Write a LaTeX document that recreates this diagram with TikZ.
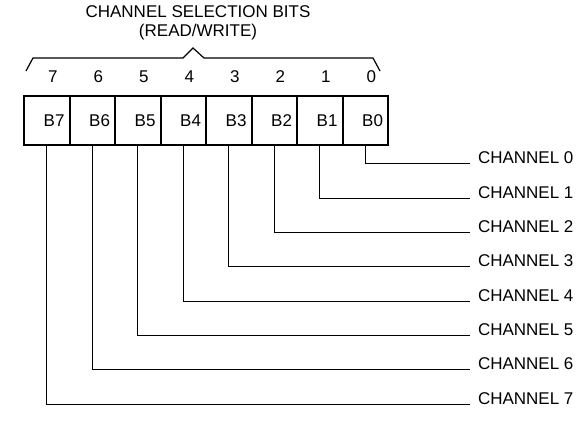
\documentclass[tikz,border=0pt]{standalone}
\usepackage{fontspec}
\setmainfont{Liberation Sans}
\usetikzlibrary{calc,positioning}

\begin{document}
\begin{tikzpicture}[x=0.5pt,y=-0.5pt,font=\fontsize{8.5}{9.5}\selectfont,
  cell/.style={draw,line width=1pt,minimum width=22.75pt,minimum height=24.5pt,text width=17.75pt,align=right,inner xsep=2.5pt,inner ysep=0pt,outer sep=0pt},
  digit/.style={inner sep=0pt},
  chan/.style={anchor=base west,inner xsep=4pt,inner ysep=0pt,outer sep=0pt},
  wire/.style={line width=0.5pt}]

  \useasboundingbox (0,0) rectangle (579,421);

  \node[align=center] (title) at (198,22.5) {CHANNEL SELECTION BITS\\(READ/WRITE)};

  \node[cell] (b7) at (46.75,120.5) {B7};
  \node[cell,right=0pt of b7] (b6) {B6};
  \node[cell,right=0pt of b6] (b5) {B5};
  \node[cell,right=0pt of b5] (b4) {B4};
  \node[cell,right=0pt of b4] (b3) {B3};
  \node[cell,right=0pt of b3] (b2) {B2};
  \node[cell,right=0pt of b2] (b1) {B1};
  \node[cell,right=0pt of b1] (b0) {B0};

  \node[digit,above=6.5pt of b7,xshift=3pt] (d7) {7};
  \node[digit,above=6.5pt of b6,xshift=3pt] (d6) {6};
  \node[digit,above=6.5pt of b5,xshift=3pt] (d5) {5};
  \node[digit,above=6.5pt of b4,xshift=3pt] (d4) {4};
  \node[digit,above=6.5pt of b3,xshift=3pt] (d3) {3};
  \node[digit,above=6.5pt of b2,xshift=3pt] (d2) {2};
  \node[digit,above=6.5pt of b1,xshift=3pt] (d1) {1};
  \node[digit,above=6.5pt of b0,xshift=3pt] (d0) {0};

  % brace over the bit numbers
  \draw[line width=0.6pt] (26,71) -- (33,58) -- (183,58) -- (193,48) -- (204,58) -- (373,58) -- (380,71);

  \node[chan] (c0) at (470,164) {CHANNEL 0};
  \node[chan] (c1) at (470,198.3) {CHANNEL 1};
  \node[chan] (c2) at (470,232.6) {CHANNEL 2};
  \node[chan] (c3) at (470,266.9) {CHANNEL 3};
  \node[chan] (c4) at (470,301.2) {CHANNEL 4};
  \node[chan] (c5) at (470,335.5) {CHANNEL 5};
  \node[chan] (c6) at (470,369.8) {CHANNEL 6};
  \node[chan] (c7) at (470,404.1) {CHANNEL 7};

  \draw[wire] (b0.south) |- (c0.base west);
  \draw[wire] (b1.south) |- (c1.base west);
  \draw[wire] (b2.south) |- (c2.base west);
  \draw[wire] (b3.south) |- (c3.base west);
  \draw[wire] (b4.south) |- (c4.base west);
  \draw[wire] (b5.south) |- (c5.base west);
  \draw[wire] (b6.south) |- (c6.base west);
  \draw[wire] (b7.south) |- (c7.base west);

\end{tikzpicture}
\end{document}
